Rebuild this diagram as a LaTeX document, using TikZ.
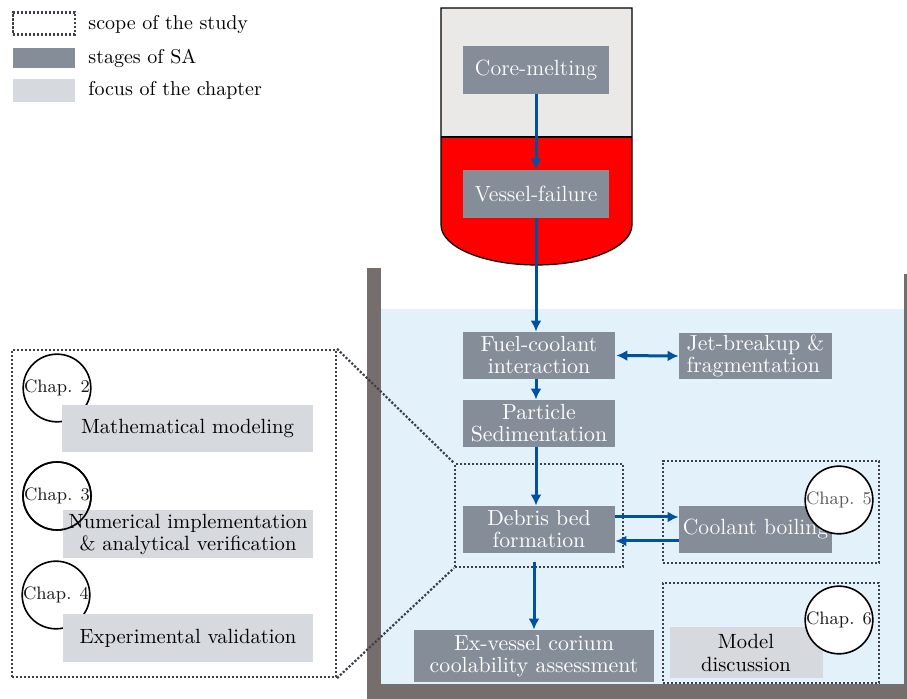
\documentclass[tikz,border=0pt]{standalone}
\usetikzlibrary{arrows.meta,calc}
\definecolor{stage}{RGB}{133,141,153}
\definecolor{focus}{RGB}{214,217,222}
\definecolor{water}{RGB}{227,242,250}
\definecolor{wall}{RGB}{118,110,108}
\definecolor{arrowblue}{RGB}{0,82,160}
\definecolor{vesseltop}{RGB}{235,233,231}
\definecolor{scopec}{RGB}{60,64,72}
\begin{document}
\begin{tikzpicture}[x=0.5pt,y=-0.5pt,
  stagebox/.style={fill=stage, text=white, inner sep=1pt, align=center, font=\fontsize{10.9}{11}\selectfont},
  focusbox/.style={fill=focus, text=black, inner sep=1pt, align=center, font=\fontsize{10.3}{11}\selectfont},
  scopeline/.style={draw=scopec, line width=1.1pt, dash pattern=on 1.1pt off 0.9pt},
  scopebox/.style={scopeline, inner sep=0pt},
  chapc/.style={circle, draw=black, line width=0.8pt, fill=white, inner sep=0pt, minimum size=33pt, font=\fontsize{9}{10}\selectfont, text=black!90},
  arr/.style={arrowblue, line width=1.5pt, -{Latex[length=5.5pt,width=5.5pt]}},
  darr/.style={arrowblue, line width=1.5pt, {Latex[length=5.5pt,width=5.5pt]}-{Latex[length=5.5pt,width=5.5pt]}},
  legtext/.style={anchor=west, inner sep=0pt, font=\fontsize{10}{12}\selectfont}
]
\useasboundingbox (0,0) rectangle (907,699);

% legend
\node[scopebox, minimum width=31pt, minimum height=11pt] (lg1) at (44,23.5) {};
\node[fill=stage, inner sep=0pt, minimum width=31pt, minimum height=10pt] (lg2) at (44,58) {};
\node[fill=focus, inner sep=0pt, minimum width=31pt, minimum height=11.5pt] (lg3) at (44,91) {};
\node[legtext] (lt1) at (88,25) {scope of the study};
\node[legtext] (lt2) at (88,58) {stages of SA};
\node[legtext] (lt3) at (88,90) {focus of the chapter};

% pool
\fill[water] (381,309) rectangle (904,684);
\fill[wall] (367,268) rectangle (381,699);
\fill[wall] (367,684) rectangle (907,699);
\fill[wall] (904,274) rectangle (907,699);

% vessel
\fill[vesseltop] (441,8) rectangle (632,137);
\fill[red] (441,137) -- (441,225) arc[start angle=180, end angle=0, x radius=95.5, y radius=40] -- (632,137) -- cycle;
\draw[line width=0.6pt] (441,8) -- (632,8) -- (632,225) arc[start angle=0, end angle=180, x radius=95.5, y radius=40] -- cycle;
\draw[line width=0.6pt] (441,137) -- (632,137);

% stage boxes
\node[stagebox, font=\fontsize{11}{12}\selectfont, minimum width=73pt, minimum height=24pt] (core) at (536,70) {Core-melting};
\node[stagebox, font=\fontsize{11}{12}\selectfont, minimum width=73pt, minimum height=24pt] (vessel) at (536,194) {Vessel-failure};
\node[stagebox, minimum width=76pt, minimum height=23.5pt] (fuel) at (539,355.5) {Fuel-coolant\\interaction};
\node[stagebox, align=left, minimum width=76.5pt, minimum height=23pt] (jet) at (755.5,356) {Jet-breakup \&\\fragmentation};
\node[stagebox, minimum width=76pt, minimum height=23.5pt] (particle) at (539,423.5) {Particle\\Sedimentation};
\node[stagebox, minimum width=76pt, minimum height=23.5pt] (debris) at (539,529.5) {Debris bed\\formation};
\node[stagebox, font=\fontsize{11}{12}\selectfont, minimum width=76.5pt, minimum height=23.5pt] (coolant) at (755.5,529.5) {Coolant boiling};
\node[stagebox, minimum width=120pt, minimum height=26pt] (exv) at (534,656) {Ex-vessel corium\\coolability assessment};

% scope boxes
\node[scopebox, minimum width=162pt, minimum height=163.5pt] (panel) at (174,513.5) {};
\node[scopebox, minimum width=84pt, minimum height=51.5pt] (dbox) at (539,515.5) {};
\node[scopebox, minimum width=108pt, minimum height=51pt] (cbox) at (771,512) {};
\node[scopebox, minimum width=108pt, minimum height=50pt] (mbox) at (771,633) {};
\draw[scopeline] (panel.north east) -- (dbox.north west);
\draw[scopeline] (panel.south east) -- (dbox.south west);

% chapter circles (left) and focus boxes
\node[chapc] (c2) at (57,388) {Chap. 2};
\node[chapc, minimum size=34pt] (c3) at (57,496) {Chap. 3};
\node[chapc] (c4) at (56,595) {Chap. 4};
\node[focusbox, minimum width=125.5pt, minimum height=23.5pt] (math) at (187.5,428.5) {Mathematical modeling};
\node[focusbox, minimum width=125pt, minimum height=24pt] (num) at (188,534) {Numerical implementation\\\& analytical verification};
\node[focusbox, minimum width=125pt, minimum height=24pt] (exp) at (188,638) {Experimental validation};
\draw[black, line width=0.8pt] (c3.center) circle[radius=17pt];
\node[focusbox, font=\fontsize{10.3}{11.5}\selectfont, minimum width=76.5pt, minimum height=25.5pt] (model) at (746,652.5) {Model\\discussion};

% arrows
\draw[arr] (core.south) -- (vessel.north);
\draw[arr] (vessel.south) -- (vessel.south |- fuel.north);
\draw[arr] (fuel.south -| core.south) -- (particle.north -| core.south);
\draw[arr] (particle.south -| core.south) -- (debris.north -| core.south);
\draw[darr] ([xshift=0.5pt]fuel.east) -- (jet.west);
\draw[arr] ([yshift=6.25pt]debris.east) -- ([yshift=6.25pt]coolant.west);
\draw[arr] ([yshift=-5.75pt]coolant.west) -- ([yshift=-5.75pt]debris.east);
\draw[arr] ([xshift=-2.5pt,yshift=-4.5pt]debris.south) -- (exv.north);

% chapter circles (right)
\node[chapc, text=black!65] (c5) at (839,500) {Chap. 5};
\node[chapc] (c6) at (839,620) {Chap. 6};
\end{tikzpicture}
\end{document}
